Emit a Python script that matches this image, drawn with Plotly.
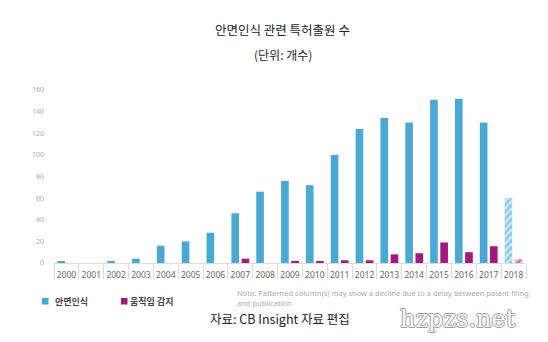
import plotly.graph_objects as go

years = [str(y) for y in range(2000, 2019)]
face_recognition = [1, 0, 2, 4, 16, 20, 28, 46, 66, 76, 72, 100, 124, 134, 130, 151, 152, 130, 60]
motion_detection = [0, 0, 0, 0, 0, 0, 0, 4, 0, 2, 1, 2.5, 2.5, 8, 9, 19, 10, 15.5, 3.5]
series_names = ["안면인식", "움직임 감지"]

BLUE = "#4aa9d4"
PURPLE = "#a2197f"
series_colors = [BLUE, PURPLE]

# last year is still incomplete, so it is drawn with a hatched pattern
hatch = [""] * (len(years) - 1) + ["/"]

fig = go.Figure()
fig.add_trace(go.Bar(
    x=years, y=face_recognition, name=series_names[0],
    marker=dict(color=BLUE, line=dict(width=0),
                pattern=dict(shape=hatch, fgcolor=BLUE, bgcolor="#d4ebf6",
                             size=5, solidity=0.55, fillmode="overlay")),
))
fig.add_trace(go.Bar(
    x=years, y=motion_detection, name=series_names[1],
    marker=dict(color=PURPLE, line=dict(width=0),
                pattern=dict(shape=hatch, fgcolor=PURPLE, bgcolor="#efc9e3",
                             size=5, solidity=0.55, fillmode="overlay")),
))

font_kr = "Noto Sans CJK KR"
n = len(years)

# plot area in pixels, used to place the surrounding text and legend
L, R, T, B, W, H = 54, 22, 90, 79, 548, 342
PW, PH = W - L - R, H - T - B


def px_x(px):
    return (px - L) / PW


def px_y(py):
    return (H - B - py) / PH


fig.update_layout(
    width=W, height=H,
    margin=dict(l=L, r=R, t=T, b=B),
    paper_bgcolor="white", plot_bgcolor="white",
    barmode="group", bargap=0.18, bargroupgap=0.25,
    font=dict(family=font_kr, color="#555"),
    showlegend=False,
    xaxis=dict(
        type="category", range=[-0.5, n - 0.5],
        showline=True, linecolor="#dcdcdc", linewidth=1,
        ticks="", ticklabelstandoff=4,
        tickfont=dict(size=8.5, color="#666", family="Noto Sans"),
        showgrid=False, zeroline=False,
    ),
    # overlay axis that only draws the separators between year labels
    xaxis2=dict(
        overlaying="x", side="bottom", range=[-0.5, n - 0.5],
        tickmode="linear", tick0=-0.5, dtick=1,
        ticks="outside", ticklen=15, tickcolor="#dcdcdc", tickwidth=1,
        showticklabels=False, showgrid=False, zeroline=False, showline=False,
    ),
    yaxis=dict(
        range=[0, 160], tickvals=list(range(0, 161, 20)),
        showgrid=False, zeroline=False, showline=False,
        ticks="", ticklabelstandoff=9,
        tickfont=dict(size=7, color="#aaa", family="Noto Sans"),
    ),
)

# invisible trace that anchors the separator axis
fig.add_trace(go.Scatter(x=[0], y=[0], xaxis="x2", mode="markers",
                         marker=dict(opacity=0), showlegend=False, hoverinfo="skip"))

# legend: small colour squares followed by series names
legend_icon_px = [42, 121]
legend_text_px = [53, 128]
for name, color, ix, tx in zip(series_names, series_colors, legend_icon_px, legend_text_px):
    fig.add_shape(type="rect", xref="paper", yref="paper",
                  x0=px_x(ix), x1=px_x(ix + 6.5), y0=px_y(304.5), y1=px_y(298),
                  fillcolor=color, line=dict(width=0))
    fig.add_annotation(text=name, xref="paper", yref="paper", showarrow=False,
                       x=px_x(tx), y=px_y(301.5), xanchor="left", yanchor="middle",
                       font=dict(size=9, color="#444", weight="bold"))

annotations = [
    dict(text="안면인식 관련 특허출원 수", x=px_x(282), y=px_y(30), font=dict(size=12.5, color="#222")),
    dict(text="(단위: 개수)", x=px_x(283), y=px_y(55), font=dict(size=12, color="#222")),
    dict(text="Note: Patterned column(s) may show a decline due to a delay between patent filing<br>and publication",
         x=px_x(235), y=px_y(298), xanchor="left", yanchor="middle", align="left",
         font=dict(size=7.5, color="#aaa", family="Noto Sans")),
    dict(text="자료: CB Insight 자료 편집", x=px_x(280), y=px_y(318.5), font=dict(size=12.5, color="#222")),
    dict(text="hzpzs.net", x=px_x(458), y=px_y(319),
         font=dict(size=24, color="white", family="DejaVu Serif",
                   shadow="1px 0 0 #999, -1px 0 0 #999, 0 1px 0 #999, 0 -1px 0 #999")),
]
for a in annotations:
    a.setdefault("xanchor", "center")
    a.setdefault("yanchor", "middle")
    fig.add_annotation(xref="paper", yref="paper", showarrow=False, **a)

fig.write_html("out.html")
